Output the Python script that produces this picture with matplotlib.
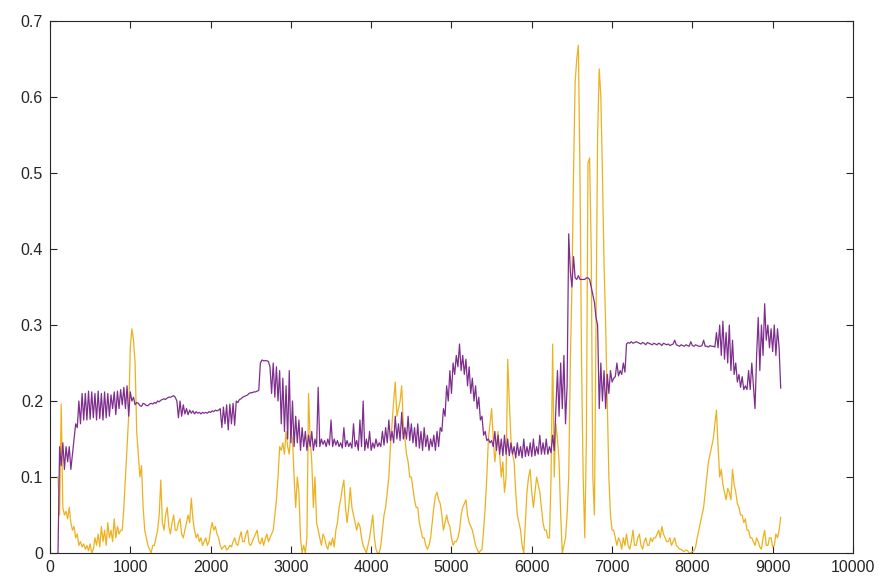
import numpy as np
import matplotlib
matplotlib.use('Agg')
import matplotlib.pyplot as plt

# samples every 20 units starting at x=100, 20 values per row (row start in comment)
purple = [
    0.0, 0.14, 0.115, 0.145, 0.11, 0.14, 0.12, 0.14, 0.11, 0.13,
    0.15, 0.17, 0.165, 0.2, 0.17, 0.21, 0.175, 0.21, 0.175, 0.213,            # 100
    0.176, 0.212, 0.178, 0.21, 0.175, 0.213, 0.177, 0.21, 0.175, 0.212,
    0.178, 0.21, 0.18, 0.208, 0.19, 0.212, 0.182, 0.213, 0.19, 0.215,         # 500
    0.195, 0.218, 0.19, 0.22, 0.18, 0.212, 0.2, 0.205, 0.195, 0.198,
    0.197, 0.194, 0.193, 0.197, 0.196, 0.194, 0.194, 0.196, 0.197, 0.196,     # 900
    0.198, 0.197, 0.2, 0.199, 0.201, 0.202, 0.203, 0.202, 0.204, 0.205,
    0.205, 0.206, 0.207, 0.205, 0.2, 0.178, 0.2, 0.18, 0.195, 0.183,          # 1300
    0.19, 0.182, 0.188, 0.184, 0.187, 0.183, 0.186, 0.184, 0.185, 0.183,
    0.185, 0.184, 0.185, 0.184, 0.186, 0.185, 0.187, 0.186, 0.188, 0.187,     # 1700
    0.188, 0.19, 0.165, 0.192, 0.17, 0.195, 0.162, 0.196, 0.17, 0.197,
    0.168, 0.2, 0.198, 0.202, 0.203, 0.205, 0.206, 0.207, 0.208, 0.21,        # 2100
    0.211, 0.211, 0.212, 0.212, 0.213, 0.214, 0.25, 0.254, 0.253, 0.253,
    0.253, 0.252, 0.245, 0.21, 0.25, 0.205, 0.245, 0.2, 0.24, 0.17,           # 2500
    0.23, 0.16, 0.22, 0.15, 0.24, 0.145, 0.2, 0.14, 0.18, 0.145,
    0.175, 0.135, 0.165, 0.14, 0.16, 0.135, 0.155, 0.14, 0.16, 0.135,         # 2900
    0.15, 0.14, 0.218, 0.14, 0.15, 0.143, 0.148, 0.14, 0.15, 0.142,
    0.175, 0.14, 0.15, 0.142, 0.148, 0.14, 0.145, 0.138, 0.165, 0.14,         # 3300
    0.148, 0.14, 0.145, 0.138, 0.17, 0.14, 0.148, 0.135, 0.175, 0.14,
    0.2, 0.135, 0.15, 0.138, 0.16, 0.135, 0.145, 0.138, 0.15, 0.14,           # 3700
    0.145, 0.14, 0.16, 0.142, 0.165, 0.145, 0.175, 0.148, 0.16, 0.145,
    0.18, 0.15, 0.17, 0.148, 0.185, 0.15, 0.165, 0.15, 0.18, 0.148,           # 4100
    0.17, 0.145, 0.165, 0.14, 0.17, 0.138, 0.16, 0.135, 0.165, 0.14,
    0.155, 0.135, 0.15, 0.14, 0.155, 0.135, 0.16, 0.14, 0.165, 0.16,          # 4500
    0.19, 0.18, 0.22, 0.2, 0.24, 0.21, 0.25, 0.235, 0.26, 0.245,
    0.275, 0.24, 0.26, 0.235, 0.255, 0.22, 0.245, 0.21, 0.23, 0.2,            # 4900
    0.22, 0.19, 0.205, 0.175, 0.18, 0.155, 0.16, 0.148, 0.15, 0.145,
    0.148, 0.14, 0.16, 0.135, 0.155, 0.13, 0.15, 0.128, 0.155, 0.13,          # 5300
    0.15, 0.128, 0.145, 0.13, 0.14, 0.125, 0.145, 0.128, 0.14, 0.125,
    0.15, 0.127, 0.14, 0.128, 0.145, 0.127, 0.15, 0.128, 0.14, 0.13,          # 5700
    0.155, 0.13, 0.145, 0.13, 0.15, 0.13, 0.14, 0.132, 0.155, 0.135,
    0.19, 0.24, 0.18, 0.25, 0.19, 0.26, 0.17, 0.22, 0.42, 0.37,               # 6100
    0.35, 0.39, 0.362, 0.36, 0.365, 0.36, 0.36, 0.36, 0.36, 0.362,
    0.362, 0.36, 0.35, 0.34, 0.33, 0.31, 0.3, 0.19, 0.25, 0.2,                # 6500
    0.24, 0.19, 0.235, 0.21, 0.24, 0.225, 0.23, 0.232, 0.25, 0.233,
    0.24, 0.235, 0.25, 0.238, 0.275, 0.277, 0.276, 0.278, 0.276, 0.277,       # 6900
    0.278, 0.277, 0.276, 0.275, 0.277, 0.276, 0.274, 0.277, 0.276, 0.275,
    0.274, 0.276, 0.275, 0.274, 0.276, 0.275, 0.273, 0.276, 0.275, 0.274,     # 7300
    0.275, 0.273, 0.274, 0.275, 0.28, 0.274, 0.273, 0.272, 0.274, 0.273,
    0.272, 0.274, 0.273, 0.272, 0.278, 0.273, 0.272, 0.274, 0.273, 0.272,     # 7700
    0.272, 0.273, 0.28, 0.272, 0.272, 0.271, 0.273, 0.272, 0.272, 0.271,
    0.29, 0.27, 0.3, 0.26, 0.305, 0.255, 0.29, 0.25, 0.3, 0.24,               # 8100
    0.28, 0.235, 0.25, 0.225, 0.235, 0.218, 0.232, 0.215, 0.22, 0.215,
    0.24, 0.215, 0.25, 0.22, 0.19, 0.26, 0.31, 0.24, 0.3, 0.26,               # 8500
    0.328, 0.28, 0.3, 0.27, 0.295, 0.265, 0.3, 0.26, 0.295, 0.27,
    0.217,                                                                    # 8900
]

yellow = [
    0.1, 0.05, 0.196, 0.06, 0.05, 0.055, 0.045, 0.06, 0.04, 0.03,
    0.035, 0.02, 0.025, 0.01, 0.015, 0.008, 0.012, 0.005, 0.01, 0.003,        # 100
    0.012, 0.0, 0.005, 0.02, 0.01, 0.025, 0.008, 0.035, 0.015, 0.03,
    0.01, 0.04, 0.02, 0.03, 0.015, 0.045, 0.02, 0.035, 0.025, 0.03,           # 500
    0.03, 0.06, 0.1, 0.14, 0.18, 0.27, 0.295, 0.28, 0.25, 0.16,
    0.13, 0.1, 0.115, 0.06, 0.03, 0.02, 0.01, 0.005, 0.0, 0.01,               # 900
    0.01, 0.02, 0.03, 0.05, 0.096, 0.04, 0.03, 0.05, 0.06, 0.035,
    0.025, 0.04, 0.05, 0.03, 0.03, 0.04, 0.045, 0.025, 0.02, 0.03,            # 1300
    0.04, 0.05, 0.04, 0.072, 0.045, 0.03, 0.02, 0.025, 0.015, 0.02,
    0.01, 0.015, 0.02, 0.01, 0.015, 0.03, 0.04, 0.03, 0.035, 0.025,           # 1700
    0.02, 0.01, 0.005, 0.008, 0.01, 0.004, 0.006, 0.01, 0.008, 0.015,
    0.02, 0.012, 0.01, 0.02, 0.028, 0.015, 0.015, 0.025, 0.03, 0.012,         # 2100
    0.01, 0.015, 0.02, 0.025, 0.03, 0.015, 0.012, 0.02, 0.01, 0.018,
    0.025, 0.015, 0.02, 0.025, 0.03, 0.05, 0.07, 0.1, 0.14, 0.135,            # 2500
    0.145, 0.13, 0.16, 0.14, 0.13, 0.16, 0.15, 0.1, 0.06, 0.1,
    0.08, 0.02, 0.0, 0.01, 0.0, 0.02, 0.21, 0.15, 0.12, 0.06,                 # 2900
    0.1, 0.04, 0.03, 0.02, 0.01, 0.025, 0.02, 0.01, 0.005, 0.015,
    0.01, 0.02, 0.008, 0.03, 0.04, 0.06, 0.07, 0.085, 0.096, 0.06,            # 3300
    0.04, 0.06, 0.086, 0.06, 0.05, 0.04, 0.03, 0.04, 0.035, 0.02,
    0.01, 0.005, 0.0, 0.01, 0.02, 0.035, 0.05, 0.02, 0.005, 0.0,              # 3700
    0.0, 0.01, 0.03, 0.05, 0.06, 0.08, 0.1, 0.14, 0.17, 0.2,
    0.225, 0.18, 0.19, 0.2, 0.22, 0.17, 0.15, 0.13, 0.12, 0.1,                # 4100
    0.1, 0.085, 0.07, 0.06, 0.06, 0.04, 0.03, 0.02, 0.02, 0.01,
    0.005, 0.01, 0.02, 0.04, 0.06, 0.075, 0.08, 0.07, 0.065, 0.05,            # 4500
    0.03, 0.04, 0.05, 0.04, 0.035, 0.02, 0.01, 0.015, 0.015, 0.02,
    0.03, 0.05, 0.06, 0.065, 0.07, 0.05, 0.04, 0.035, 0.03, 0.02,             # 4900
    0.01, 0.005, 0.0, 0.003, 0.005, 0.03, 0.06, 0.1, 0.15, 0.17,
    0.19, 0.15, 0.12, 0.14, 0.16, 0.13, 0.1, 0.12, 0.08, 0.1,                 # 5300
    0.255, 0.2, 0.15, 0.13, 0.12, 0.08, 0.05, 0.04, 0.03, 0.01,
    0.0, 0.04, 0.08, 0.1, 0.11, 0.08, 0.06, 0.08, 0.1, 0.09,                  # 5700
    0.08, 0.06, 0.04, 0.03, 0.03, 0.02, 0.02, 0.1, 0.275, 0.1,
    0.17, 0.15, 0.12, 0.05, 0.0, 0.01, 0.02, 0.05, 0.1, 0.25,                 # 6100
    0.35, 0.5, 0.62, 0.65, 0.668, 0.5, 0.25, 0.1, 0.02, 0.15,
    0.513, 0.52, 0.4, 0.1, 0.05, 0.3, 0.55, 0.637, 0.6, 0.5,                  # 6500
    0.38, 0.3, 0.2, 0.1, 0.05, 0.03, 0.03, 0.02, 0.01, 0.02,
    0.015, 0.005, 0.02, 0.01, 0.025, 0.01, 0.005, 0.015, 0.03, 0.01,          # 6900
    0.01, 0.02, 0.025, 0.01, 0.005, 0.015, 0.02, 0.01, 0.01, 0.02,
    0.015, 0.02, 0.02, 0.025, 0.03, 0.02, 0.035, 0.025, 0.02, 0.015,          # 7300
    0.015, 0.02, 0.01, 0.015, 0.02, 0.01, 0.008, 0.005, 0.005, 0.003,
    0.002, 0.004, 0.003, 0.0, 0.0, 0.002, 0.003, 0.008, 0.02, 0.03,           # 7700
    0.04, 0.05, 0.06, 0.08, 0.1, 0.12, 0.13, 0.14, 0.15, 0.17,
    0.188, 0.14, 0.1, 0.11, 0.09, 0.08, 0.07, 0.085, 0.08, 0.07,              # 8100
    0.11, 0.09, 0.08, 0.065, 0.06, 0.05, 0.05, 0.04, 0.045, 0.03,
    0.03, 0.02, 0.02, 0.015, 0.01, 0.02, 0.015, 0.008, 0.005, 0.02,           # 8500
    0.03, 0.01, 0.01, 0.02, 0.02, 0.008, 0.01, 0.025, 0.02, 0.03,
    0.047,                                                                    # 8900
]

x_start = 100
x_step = 20
xp = x_start + x_step*np.arange(len(purple))
xy = x_start + x_step*np.arange(len(yellow))

plt.rcParams['font.family'] = ['Liberation Sans', 'DejaVu Sans']

fig = plt.figure(figsize=(8.83, 5.82), dpi=100)
ax = fig.add_axes([0.0566, 0.0498, 0.9094, 0.9141])

ax.plot(xy, yellow, color='#EDB120', lw=0.9)
ax.plot(xp, purple, color='#7E2F8E', lw=0.9)

ax.set_xlim(0, 10000)
ax.set_ylim(0, 0.7)
ax.set_xticks(np.arange(0, 10001, 1000))
ax.set_yticks(np.arange(0, 0.71, 0.1))
ax.set_yticklabels(['0', '0.1', '0.2', '0.3', '0.4', '0.5', '0.6', '0.7'])
ax.tick_params(direction='in', length=5, width=0.8, colors='#262626',
               labelsize=11.5, top=True, right=True, pad=5)
for s in ax.spines.values():
    s.set_color('#262626')
    s.set_linewidth(0.8)

plt.savefig('out.png', dpi=100)
plt.close()
